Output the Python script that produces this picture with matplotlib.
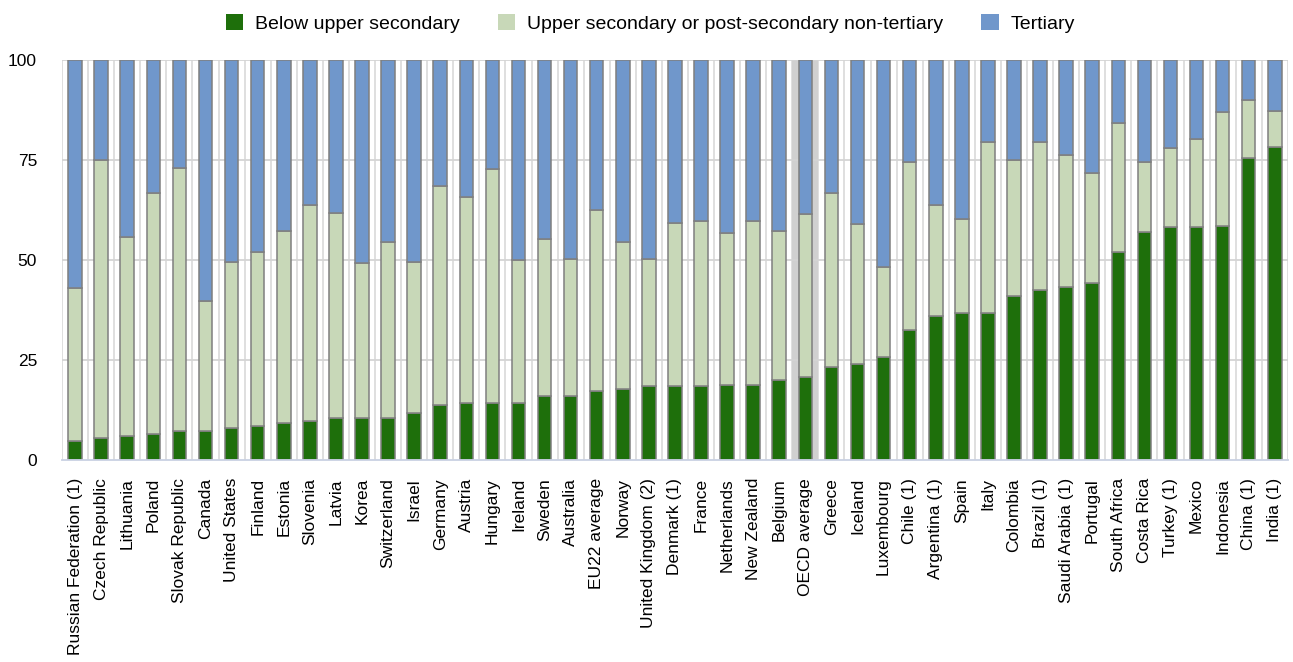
import matplotlib
matplotlib.use("Agg")
import matplotlib.pyplot as plt
import numpy as np

categories = ["Russian Federation (1)", "Czech Republic", "Lithuania", "Poland", "Slovak Republic",
              "Canada", "United States", "Finland", "Estonia", "Slovenia", "Latvia", "Korea",
              "Switzerland", "Israel", "Germany", "Austria", "Hungary", "Ireland", "Sweden",
              "Australia", "EU22 average", "Norway", "United Kingdom (2)", "Denmark (1)", "France",
              "Netherlands", "New Zealand", "Belgium", "OECD average", "Greece", "Iceland",
              "Luxembourg", "Chile (1)", "Argentina (1)", "Spain", "Italy", "Colombia", "Brazil (1)",
              "Saudi Arabia (1)", "Portugal", "South Africa", "Costa Rica", "Turkey (1)", "Mexico",
              "Indonesia", "China (1)", "India (1)"]

below_upper_secondary = [4.8, 5.5, 6.1, 6.5, 7.3, 7.3, 8.0, 8.4, 9.2, 9.8, 10.5, 10.5, 10.5, 11.7,
                         13.8, 14.2, 14.2, 14.2, 15.9, 15.9, 17.2, 17.7, 18.4, 18.4, 18.4, 18.7, 18.7,
                         20.0, 20.7, 23.2, 24.0, 25.7, 32.4, 36.0, 36.8, 36.8, 40.9, 42.6, 43.3, 44.2,
                         52.1, 57.0, 58.2, 58.2, 58.6, 75.5, 78.3]
# cumulative top of the upper-secondary segment
upper_secondary_top = [42.9, 75.1, 55.7, 66.7, 73.0, 39.7, 49.6, 52.0, 57.3, 63.8, 61.7, 49.2, 54.5,
                       49.6, 68.4, 65.7, 72.8, 50.0, 55.3, 50.2, 62.6, 54.5, 50.2, 59.3, 59.7, 56.8,
                       59.7, 57.2, 61.4, 66.7, 59.0, 48.2, 74.6, 63.8, 60.2, 79.6, 75.0, 79.6, 76.2,
                       71.7, 84.2, 74.6, 77.9, 80.3, 86.9, 89.9, 87.3]

below = np.array(below_upper_secondary)
upper = np.array(upper_secondary_top) - below
tertiary = 100 - below - upper

c_dark = "#1e6f0b"
c_light = "#c8d8b8"
c_blue = "#7097cb"
edge = "#7f7f7f"

plt.rcParams['font.family'] = ['Liberation Sans', 'DejaVu Sans']

fig = plt.figure(figsize=(12.93, 6.62), dpi=100)
ax = fig.add_axes([0.048, 0.3051, 0.948, 0.6043])

x = np.arange(len(categories))
w = 0.52

# OECD average highlight
oecd_idx = categories.index("OECD average")
ax.axvspan(oecd_idx - 0.5, oecd_idx + 0.5, color="#d0d0d0", zorder=0.5, lw=0)

# grid
for k in range(len(categories) + 1):
    ax.axvline(k - 0.5, color="#dcdcdc", lw=1.3, zorder=0.4)
for yv in [25, 50, 75, 100]:
    ax.axhline(yv, color="#d4d4d4", lw=1.3, zorder=0.6)

ax.bar(x, below, w, color=c_dark, edgecolor=edge, lw=1.1, zorder=2, label="Below upper secondary")
ax.bar(x, upper, w, bottom=below, color=c_light, edgecolor=edge, lw=1.1, zorder=2,
       label="Upper secondary or post-secondary non-tertiary")
ax.bar(x, tertiary, w, bottom=below + upper, color=c_blue, edgecolor=edge, lw=1.1, zorder=2,
       label="Tertiary")

ax.set_xlim(-0.5, len(categories) - 0.5)
ax.set_ylim(0, 100)
ax.set_yticks([0, 25, 50, 75, 100])
ax.set_xticks(x)
ax.set_xticklabels(categories, rotation=90, fontsize=12.5)
ax.tick_params(axis='y', labelsize=12.5, length=0, pad=18)
ax.tick_params(axis='x', length=0, pad=13)
for s in ['top', 'right', 'left']:
    ax.spines[s].set_visible(False)
ax.spines['bottom'].set_color("#c9d1e3")
ax.spines['bottom'].set_linewidth(1.3)

handles, labels = ax.get_legend_handles_labels()
fig.legend(handles, labels, loc='upper center', bbox_to_anchor=(0.503, 1.0), ncol=3,
           frameon=False, fontsize=14, handlelength=0.9, handleheight=0.95,
           columnspacing=1.95, handletextpad=0.62, borderaxespad=0.3)
leg = fig.legends[0]
for h in leg.legend_handles:
    h.set_edgecolor('none')

fig.savefig("out.png", dpi=100)
